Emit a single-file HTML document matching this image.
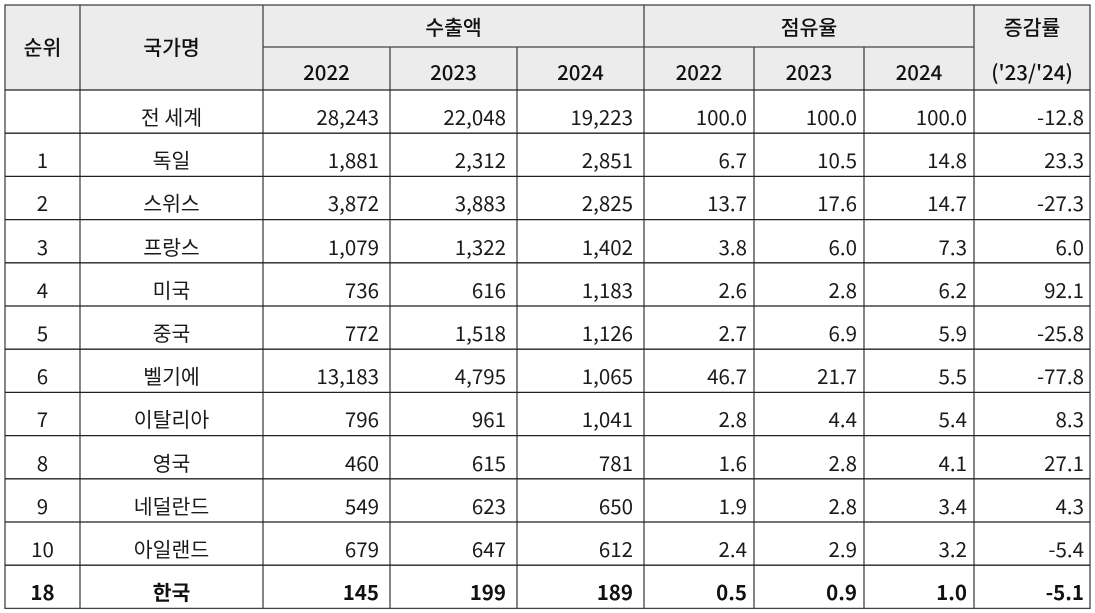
<!DOCTYPE html>
<html><head><meta charset="utf-8"><style>
html,body{margin:0;padding:0;background:#fff;}
svg{display:block;}
text{font-family:"Noto Sans CJK KR","Liberation Sans",sans-serif;font-size:20.5px;fill:#1a1a1a;}
.h{font-weight:500;fill:#111;}
.c{text-anchor:middle;}
.e{text-anchor:end;}
.b{font-weight:bold;fill:#111;}
</style></head><body>
<svg width="1095" height="613" xmlns="http://www.w3.org/2000/svg">
<rect x="5" y="5" width="1085" height="85" fill="#ececec"/>
<g stroke="#444" stroke-width="1.3" fill="none">
<rect x="5" y="5" width="1085" height="603.4"/>
<line x1="263" y1="47" x2="974" y2="47"/>
<line x1="80" y1="5" x2="80" y2="608.4"/>
<line x1="263" y1="5" x2="263" y2="608.4"/>
<line x1="390" y1="47" x2="390" y2="608.4"/>
<line x1="517" y1="47" x2="517" y2="608.4"/>
<line x1="644" y1="5" x2="644" y2="608.4"/>
<line x1="754" y1="47" x2="754" y2="608.4"/>
<line x1="864" y1="47" x2="864" y2="608.4"/>
<line x1="974" y1="5" x2="974" y2="608.4"/>
</g>
<g stroke="#222" stroke-width="1.3">
<line x1="5" y1="90" x2="1090" y2="90"/>
<line x1="5" y1="133.2" x2="1090" y2="133.2"/>
<line x1="5" y1="176.4" x2="1090" y2="176.4"/>
<line x1="5" y1="219.6" x2="1090" y2="219.6"/>
<line x1="5" y1="262.8" x2="1090" y2="262.8"/>
<line x1="5" y1="306" x2="1090" y2="306"/>
<line x1="5" y1="349.2" x2="1090" y2="349.2"/>
<line x1="5" y1="392.4" x2="1090" y2="392.4"/>
<line x1="5" y1="435.6" x2="1090" y2="435.6"/>
<line x1="5" y1="478.8" x2="1090" y2="478.8"/>
<line x1="5" y1="522" x2="1090" y2="522"/>
<line x1="5" y1="565.2" x2="1090" y2="565.2"/>
</g>
<!-- header -->
<g class="h">
<text class="c h" x="42.5" y="55">순위</text>
<text class="c h" x="171.5" y="55">국가명</text>
<text class="c h" x="453.5" y="35">수출액</text>
<text class="c h" x="809" y="35">점유율</text>
<text class="c h" x="1032" y="35">증감률</text>
<text class="c h" x="326.5" y="80">2022</text>
<text class="c h" x="453.5" y="80">2023</text>
<text class="c h" x="580.5" y="80">2024</text>
<text class="c h" x="699" y="80">2022</text>
<text class="c h" x="809" y="80">2023</text>
<text class="c h" x="919" y="80">2024</text>
<text class="c h" x="1032" y="80">('23/'24)</text>
</g>
<!-- rows -->
<g>
<text class="c" x="171.5" y="125">전 세계</text>
<text class="e" x="379" y="125">28,243</text><text class="e" x="506" y="125">22,048</text><text class="e" x="633" y="125">19,223</text>
<text class="e" x="747" y="125">100.0</text><text class="e" x="857" y="125">100.0</text><text class="e" x="967" y="125">100.0</text><text class="e" x="1084" y="125">-12.8</text>

<text class="c" x="42.5" y="168">1</text><text class="c" x="171.5" y="168">독일</text>
<text class="e" x="379" y="168">1,881</text><text class="e" x="506" y="168">2,312</text><text class="e" x="633" y="168">2,851</text>
<text class="e" x="747" y="168">6.7</text><text class="e" x="857" y="168">10.5</text><text class="e" x="967" y="168">14.8</text><text class="e" x="1084" y="168">23.3</text>

<text class="c" x="42.5" y="211">2</text><text class="c" x="171.5" y="211">스위스</text>
<text class="e" x="379" y="211">3,872</text><text class="e" x="506" y="211">3,883</text><text class="e" x="633" y="211">2,825</text>
<text class="e" x="747" y="211">13.7</text><text class="e" x="857" y="211">17.6</text><text class="e" x="967" y="211">14.7</text><text class="e" x="1084" y="211">-27.3</text>

<text class="c" x="42.5" y="255">3</text><text class="c" x="171.5" y="255">프랑스</text>
<text class="e" x="379" y="255">1,079</text><text class="e" x="506" y="255">1,322</text><text class="e" x="633" y="255">1,402</text>
<text class="e" x="747" y="255">3.8</text><text class="e" x="857" y="255">6.0</text><text class="e" x="967" y="255">7.3</text><text class="e" x="1084" y="255">6.0</text>

<text class="c" x="42.5" y="298">4</text><text class="c" x="171.5" y="298">미국</text>
<text class="e" x="379" y="298">736</text><text class="e" x="506" y="298">616</text><text class="e" x="633" y="298">1,183</text>
<text class="e" x="747" y="298">2.6</text><text class="e" x="857" y="298">2.8</text><text class="e" x="967" y="298">6.2</text><text class="e" x="1084" y="298">92.1</text>

<text class="c" x="42.5" y="341">5</text><text class="c" x="171.5" y="341">중국</text>
<text class="e" x="379" y="341">772</text><text class="e" x="506" y="341">1,518</text><text class="e" x="633" y="341">1,126</text>
<text class="e" x="747" y="341">2.7</text><text class="e" x="857" y="341">6.9</text><text class="e" x="967" y="341">5.9</text><text class="e" x="1084" y="341">-25.8</text>

<text class="c" x="42.5" y="384">6</text><text class="c" x="171.5" y="384">벨기에</text>
<text class="e" x="379" y="384">13,183</text><text class="e" x="506" y="384">4,795</text><text class="e" x="633" y="384">1,065</text>
<text class="e" x="747" y="384">46.7</text><text class="e" x="857" y="384">21.7</text><text class="e" x="967" y="384">5.5</text><text class="e" x="1084" y="384">-77.8</text>

<text class="c" x="42.5" y="427">7</text><text class="c" x="171.5" y="427">이탈리아</text>
<text class="e" x="379" y="427">796</text><text class="e" x="506" y="427">961</text><text class="e" x="633" y="427">1,041</text>
<text class="e" x="747" y="427">2.8</text><text class="e" x="857" y="427">4.4</text><text class="e" x="967" y="427">5.4</text><text class="e" x="1084" y="427">8.3</text>

<text class="c" x="42.5" y="471">8</text><text class="c" x="171.5" y="471">영국</text>
<text class="e" x="379" y="471">460</text><text class="e" x="506" y="471">615</text><text class="e" x="633" y="471">781</text>
<text class="e" x="747" y="471">1.6</text><text class="e" x="857" y="471">2.8</text><text class="e" x="967" y="471">4.1</text><text class="e" x="1084" y="471">27.1</text>

<text class="c" x="42.5" y="514">9</text><text class="c" x="171.5" y="514">네덜란드</text>
<text class="e" x="379" y="514">549</text><text class="e" x="506" y="514">623</text><text class="e" x="633" y="514">650</text>
<text class="e" x="747" y="514">1.9</text><text class="e" x="857" y="514">2.8</text><text class="e" x="967" y="514">3.4</text><text class="e" x="1084" y="514">4.3</text>

<text class="c" x="42.5" y="557">10</text><text class="c" x="171.5" y="557">아일랜드</text>
<text class="e" x="379" y="557">679</text><text class="e" x="506" y="557">647</text><text class="e" x="633" y="557">612</text>
<text class="e" x="747" y="557">2.4</text><text class="e" x="857" y="557">2.9</text><text class="e" x="967" y="557">3.2</text><text class="e" x="1084" y="557">-5.4</text>

<text class="c b" x="42.5" y="600">18</text><text class="c b" x="171.5" y="600">한국</text>
<text class="e b" x="379" y="600">145</text><text class="e b" x="506" y="600">199</text><text class="e b" x="633" y="600">189</text>
<text class="e b" x="747" y="600">0.5</text><text class="e b" x="857" y="600">0.9</text><text class="e b" x="967" y="600">1.0</text><text class="e b" x="1084" y="600">-5.1</text>
</g>
</svg>
</body></html>
